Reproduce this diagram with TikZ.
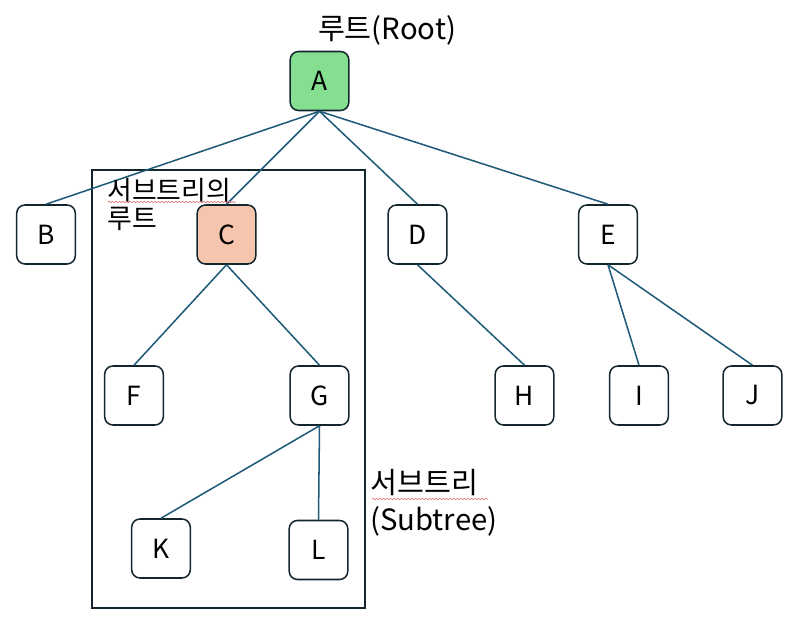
\documentclass[tikz,border=0pt]{standalone}
\usepackage{fontspec}
\setmainfont{Noto Sans CJK KR}
\usetikzlibrary{decorations.pathmorphing}
\definecolor{edgeblue}{HTML}{1F5A78}
\definecolor{boxline}{HTML}{13262E}
\definecolor{rootgreen}{HTML}{85DF90}
\definecolor{subpeach}{HTML}{F5C6AD}
\definecolor{spellred}{HTML}{E07070}
\tikzset{
	treebox/.style={draw=boxline, line width=1.3pt, rounded corners=0.25cm, fill=white,
		minimum width=1.76cm, minimum height=1.77cm, inner sep=0pt,
		font=\fontsize{22.5}{26}\selectfont},
	edge/.style={draw=edgeblue, line width=1.3pt},
	spellmark/.style={draw=spellred, line width=0.5pt, decorate,
		decoration={snake, segment length=3pt, amplitude=0.6pt}}
}
\begin{document}
\begin{tikzpicture}[x=0.03cm, y=-0.03cm]
			\useasboundingbox (0,0) rectangle (799,628);
			%subtree frame
			\draw[boxline, line width=1.6pt] (92,170) rectangle (365,608);
			
			%nodes
			\node[treebox, fill=rootgreen] (nA) at (319.5, 81){A};
			\node[treebox] (nB) at (46, 234.5){B};
			\node[treebox, fill=subpeach] (nC) at (226.5, 234.5){C};
			\node[treebox] (nD) at (417.5, 234.5){D};
			\node[treebox] (nE) at (608, 234.5){E};
			\node[treebox] (nF) at (134, 395.5){F};
			\node[treebox] (nG) at (319.5, 395.5){G};
			\node[treebox] (nH) at (524.5, 395.5){H};
			\node[treebox] (nI) at (639, 395.5){I};
			\node[treebox] (nJ) at (752.5, 395.5){J};
			\node[treebox] (nK) at (161, 548.5){K};
			\node[treebox] (nL) at (318.5, 550){L};
			
			%edges
			\foreach \p/\c in {nA/nB, nA/nC, nA/nD, nA/nE, nC/nF, nC/nG, nG/nK, nG/nL, nD/nH, nE/nI, nE/nJ}{
				\draw[edge] (\p.south) -- (\c.north);
			}
			
			%labels
			\node[font=\fontsize{25}{29}\selectfont] (rootlbl) at (387, 30) {루트(Root)};
			\node[anchor=west, inner sep=0pt, align=left, font=\fontsize{23}{24}\selectfont]
				(subrootlbl) at (107, 204) {서브트리의\\루트};
			\node[anchor=west, inner sep=0pt, align=left, font=\fontsize{25}{32}\selectfont]
				(subtreelbl) at (370, 503) {서브트리\\(Subtree)};
			\draw[spellmark] (108,202) -- (236,202);
			\draw[spellmark] (372,499) -- (488,499);
		\end{tikzpicture}
\end{document}
